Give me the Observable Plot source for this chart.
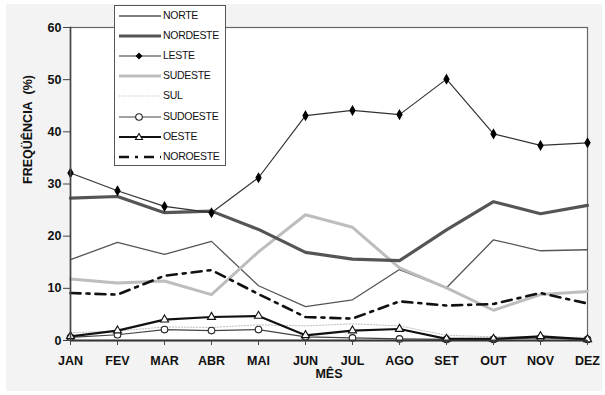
<!DOCTYPE html>
<html>
<head>
<meta charset="utf-8">
<script src="https://cdn.jsdelivr.net/npm/d3@7"></script>
<script src="https://cdn.jsdelivr.net/npm/@observablehq/plot@0.6"></script>
<style>
  html, body { margin: 0; padding: 0; background: #ffffff; }
  #wrap { position: relative; width: 605px; height: 395px; overflow: hidden; font-family: "Liberation Sans", Arial, sans-serif; }
  #bg { position: absolute; left: 6px; top: 4px; width: 596px; height: 387px; background: #f3f3f3; }
  #chart { position: absolute; left: 0; top: 0; }
  #legend { position: absolute; left: 114px; top: 5px; width: 112px; height: 161px; background: #fff; border: 1px solid #555; box-sizing: border-box; }
  .row { position: absolute; left: 0; height: 20px; width: 111px; }
  .row svg { position: absolute; left: 3px; top: 0; }
  .row span { position: absolute; left: 48px; top: 3px; font-size: 10.5px; color: #111; letter-spacing: -0.3px; }
</style>
</head>
<body>
<div id="wrap"><div id="bg"></div><div id="chart"></div><div id="legend"></div></div>
<script>
const months = ["JAN","FEV","MAR","ABR","MAI","JUN","JUL","AGO","SET","OUT","NOV","DEZ"];
const norte    = [15.5,18.8,16.5,19.0,10.5,6.5,7.8,13.6,10.1,19.3,17.2,17.4];
const nordeste = [27.3,27.6,24.5,24.8,21.3,16.9,15.6,15.3,21.2,26.6,24.3,25.9];
const leste    = [32.1,28.7,25.7,24.5,31.2,43.1,44.1,43.3,50.1,39.6,37.4,37.9];
const sudeste  = [11.8,11.0,11.4,8.8,17.0,24.1,21.7,13.9,10.1,5.8,8.8,9.4];
const sul      = [1.5,1.8,2.6,2.5,3.0,2.8,3.2,2.8,1.0,0.7,0.6,0.6];
const sudoeste = [0.6,1.1,2.1,1.9,2.1,0.7,0.5,0.3,0.2,0.2,0.5,0.2];
const oeste    = [0.8,1.9,4.0,4.5,4.7,1.0,1.9,2.2,0.3,0.3,0.8,0.2];
const noroeste = [9.1,8.8,12.4,13.5,8.9,4.5,4.2,7.5,6.7,7.0,9.1,7.1];
const yTicks = [0,10,20,30,40,50,60];

const seriesNames = ["NORTE","NORDESTE","LESTE","SUDESTE","SUL","SUDOESTE","OESTE","NOROESTE"];
const seriesValues = [norte, nordeste, leste, sudeste, sul, sudoeste, oeste, noroeste];

// styles
const styles = {
  NORTE:    {stroke: "#555", strokeWidth: 1.3},
  NORDESTE: {stroke: "#555", strokeWidth: 3.2},
  LESTE:    {stroke: "#333", strokeWidth: 1.2, symbol: "diamond", dotFill: "#000", dotStroke: "#000", r: 2.7},
  SUDESTE:  {stroke: "#bdbdbd", strokeWidth: 3},
  SUL:      {stroke: "#c4c4c4", strokeWidth: 1, dash: "1.5,1.5"},
  SUDOESTE: {stroke: "#444", strokeWidth: 1.2, symbol: "circle", dotFill: "#fff", dotStroke: "#222", r: 3.3},
  OESTE:    {stroke: "#111", strokeWidth: 2.2, symbol: "triangle", dotFill: "#fff", dotStroke: "#111", r: 3.0},
  NOROESTE: {stroke: "#111", strokeWidth: 2.6, dash: "10,6,3,6"}
};

const table = [];
seriesNames.forEach((s, i) => months.forEach((m, j) => table.push({serie: s, mes: m, valor: seriesValues[i][j]})));

const drawOrder = ["SUL","NORTE","SUDESTE","NORDESTE","NOROESTE","SUDOESTE","OESTE","LESTE"];
const marks = [
  Plot.frame({fill: "#fff", stroke: "#666", strokeWidth: 1.2})
];
for (const s of drawOrder) {
  const st = styles[s];
  const d = table.filter(r => r.serie === s);
  marks.push(Plot.lineY(d, {x: "mes", y: "valor", stroke: st.stroke, strokeWidth: st.strokeWidth, strokeDasharray: st.dash, strokeLinejoin: "round"}));
  if (st.symbol) {
    marks.push(Plot.dot(d, {x: "mes", y: "valor", symbol: st.symbol, r: st.r, fill: st.dotFill, stroke: st.dotStroke, strokeWidth: 1.1}));
  }
}
marks.push(
  Plot.frame({anchor: "left", stroke: "#444", strokeWidth: 1.6}),
  Plot.ruleY([0], {stroke: "#333", strokeWidth: 2}),
  Plot.axisY({ticks: yTicks, tickSize: 7, tickPadding: 2, label: null, fontSize: 12.5, fontWeight: "bold", stroke: "#444"}),
  Plot.axisX({tickSize: 5, tickPadding: 11, label: null, fontSize: 12.5, fontWeight: "bold", stroke: "#444"}),
  Plot.text(["FREQÜÊNCIA\u00A0\u00A0(%)"], {frameAnchor: "left", dx: -43, rotate: -90, fontSize: 12.5, fontWeight: "bold", fill: "#111"}),
  Plot.text(["MÊS"], {frameAnchor: "bottom", dy: 37.5, fontSize: 12.5, fontWeight: "bold", fill: "#111"})
);

const chart = Plot.plot({
  width: 605,
  height: 395,
  marginLeft: 70,
  marginRight: 18,
  marginTop: 27,
  marginBottom: 55,
  style: {background: "transparent", fontFamily: "'Liberation Sans', Arial, sans-serif", color: "#111"},
  x: {type: "point", domain: months, padding: 0},
  y: {domain: [0, 60]},
  marks
});
document.getElementById("chart").appendChild(chart);

// legend
const legend = document.getElementById("legend");
seriesNames.forEach((s, i) => {
  const st = styles[s];
  const row = document.createElement("div");
  row.className = "row";
  row.style.top = (i * 20.1) + "px";
  let sym = "";
  if (st.symbol === "diamond") sym = `<path d="M21,6.5 L24.5,10 L21,13.5 L17.5,10 Z" fill="#000"/>`;
  if (st.symbol === "circle") sym = `<circle cx="21" cy="10" r="3.3" fill="#fff" stroke="#222" stroke-width="1.1"/>`;
  if (st.symbol === "triangle") sym = `<path d="M21,6.5 L24.5,12.5 L17.5,12.5 Z" fill="#fff" stroke="#111" stroke-width="1.1"/>`;
  row.innerHTML = `<svg width="44" height="20"><line x1="1" y1="10" x2="43" y2="10" stroke="${st.stroke}" stroke-width="${st.strokeWidth}" ${st.dash ? `stroke-dasharray="${st.dash}"` : ""}/>${sym}</svg><span>${s}</span>`;
  legend.appendChild(row);
});
</script>
</body>
</html>
